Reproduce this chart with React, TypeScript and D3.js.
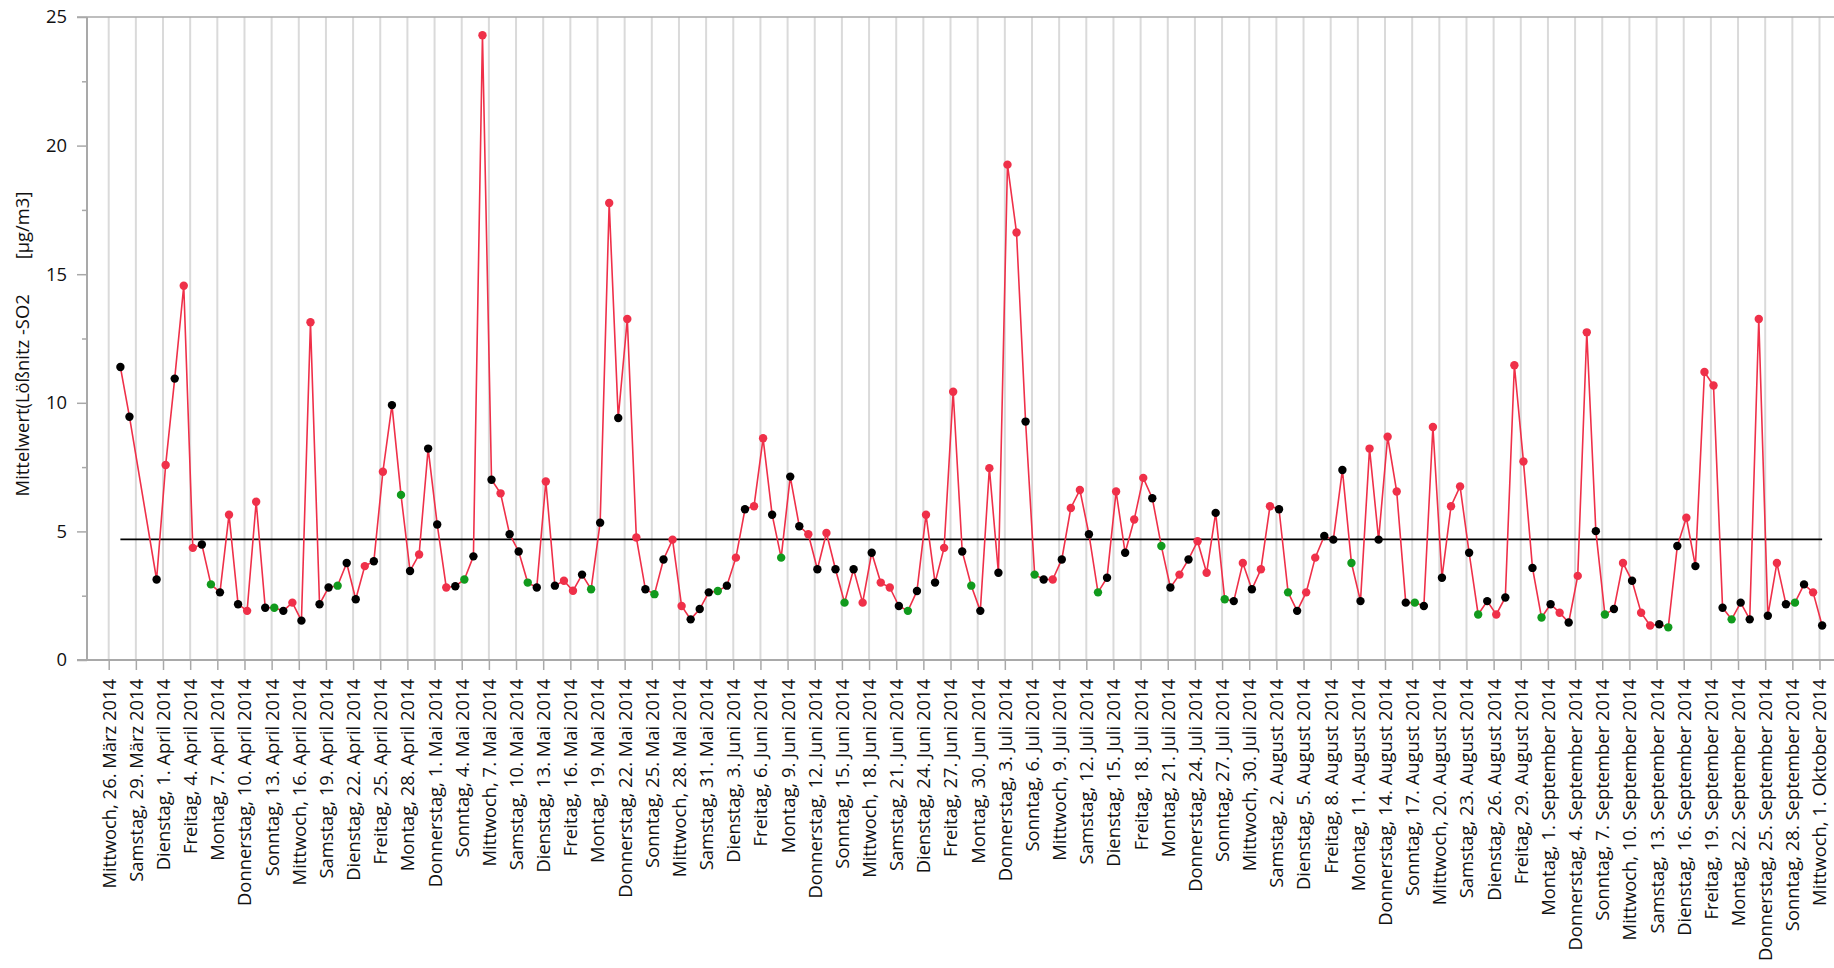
import React, { useEffect, useRef } from 'react';
import * as d3 from 'd3';

// daily SO2 means at Lößnitz (µg/m3)
const firstDays = ['2014-03-27', '2014-03-28'];
const dailyFrom = '2014-03-31'; // one value per day from here on, to 1 Oct
const so2Values = [
  11.39, 9.46,
  3.13, 7.58, 10.94, 14.55, 4.36, 4.49, 2.94, 2.63, 5.65, 2.17,
  1.91, 6.15, 2.03, 2.03, 1.91, 2.23, 1.53, 13.13, 2.17, 2.82,
  2.89, 3.77, 2.36, 3.65, 3.84, 7.32, 9.91, 6.42, 3.46, 4.10,
  8.22, 5.27, 2.82, 2.87, 3.13, 4.03, 24.29, 7.01, 6.48, 4.89,
  4.22, 3.01, 2.82, 6.94, 2.89, 3.08, 2.69, 3.32, 2.75, 5.34,
  17.77, 9.41, 13.26, 4.76, 2.75, 2.56, 3.91, 4.68, 2.10, 1.58,
  1.98, 2.63, 2.68, 2.89, 3.98, 5.86, 5.98, 8.62, 5.65, 3.98,
  7.13, 5.20, 4.89, 3.53, 4.94, 3.53, 2.23, 3.53, 2.23, 4.17,
  3.01, 2.82, 2.10, 1.91, 2.68, 5.65, 3.01, 4.36, 10.43, 4.22,
  2.89, 1.91, 7.46, 3.39, 19.26, 16.62, 9.27, 3.32, 3.13, 3.13,
  3.91, 5.91, 6.61, 4.89, 2.63, 3.20, 6.55, 4.17, 5.46, 7.08,
  6.29, 4.43, 2.82, 3.32, 3.91, 4.62, 3.39, 5.72, 2.36, 2.29,
  3.77, 2.75, 3.53, 5.98, 5.86, 2.63, 1.91, 2.63, 3.98, 4.82,
  4.68, 7.39, 3.77, 2.29, 8.22, 4.68, 8.68, 6.55, 2.23, 2.23,
  2.10, 9.06, 3.20, 5.98, 6.75, 4.17, 1.77, 2.29, 1.77, 2.43,
  11.46, 7.72, 3.58, 1.65, 2.17, 1.84, 1.46, 3.27, 12.74, 5.01,
  1.77, 1.98, 3.77, 3.08, 1.84, 1.34, 1.39, 1.27, 4.43, 5.53,
  3.65, 11.20, 10.67, 2.03, 1.58, 2.23, 1.58, 13.26, 1.72, 3.77,
  2.17, 2.23, 2.94, 2.63, 1.34,
];
// marker colour per value, k = black, r = red, g = green (one group per week, Mon..Sun)
const markerWeeks = [
  'kk',
  'krkrrkg', 'krkrrkg', 'krkrkkg', 'kkrkrkg', 'krkkrkg', 'krkrkkg',
  'krkrrkg', 'krkrrkg', 'krrkkkg', 'krkrrkg', 'kkrkrkg', 'krkrrkg',
  'krkrrkg', 'krkrrkg', 'krkrrkg', 'krkrrkg', 'krkrrkg', 'krkrrkg',
  'krrkkkg', 'krkrrkg', 'krkrrkg', 'krkrrkg', 'krkrrkg', 'krkrrkg',
  'krkrrkg', 'kkrkrkg', 'krk',
];
const meanValue = 4.69;

const tickFrom = '2014-03-26';
const tickTo = '2014-10-01';
const weekdayNames = ['Sonntag', 'Montag', 'Dienstag', 'Mittwoch', 'Donnerstag', 'Freitag', 'Samstag'];
const monthNames = ['Januar', 'Februar', 'März', 'April', 'Mai', 'Juni', 'Juli', 'August', 'September', 'Oktober', 'November', 'Dezember'];
const yTicks = [0, 5, 10, 15, 20, 25];
const yMinorTicks = [2.5, 7.5, 12.5, 17.5, 22.5];
const yTitle = 'Mittelwert(Lößnitz -SO2';
const yUnit = '[µg/m3]';

const markerFill = { k: '#000000', r: '#ef3049', g: '#119a1d' };

function App() {
  const chartRef = useRef(null);

  useEffect(() => {
    const width = 1834;
    const height = 968;
    const font = '"Open Sans", "Noto Sans", sans-serif';
    const fontSize = 18.4;
    const axisGray = '#a9a9a9';

    const svg = d3.select(chartRef.current);
    svg.selectAll('*').remove();
    svg.attr('width', width).attr('height', height);

    const parse = d3.utcParse('%Y-%m-%d');
    const dates = firstDays.map((d) => parse(d));
    for (let i = 0; i < so2Values.length - firstDays.length; i++) {
      dates.push(d3.utcDay.offset(parse(dailyFrom), i));
    }
    const codes = markerWeeks.join('');
    // values are plotted a few hours into their day
    const data = so2Values.map((v, i) => ({
      date: d3.utcHour.offset(dates[i], 7),
      value: v,
      color: markerFill[codes[i]] || '#000',
    }));

    const plotLeft = 87;
    const xScale = d3
      .scaleUtc()
      .domain([parse(tickFrom), parse(tickTo)])
      .range([108.7, 1819.5]);
    const yScale = d3.scaleLinear().domain([0, 25]).range([660, 17]);

    const german = d3.timeFormatLocale({
      dateTime: '%A, %e. %B %Y %X',
      date: '%d.%m.%Y',
      time: '%H:%M:%S',
      periods: ['AM', 'PM'],
      days: weekdayNames,
      shortDays: weekdayNames.map((d) => d.slice(0, 2)),
      months: monthNames,
      shortMonths: monthNames.map((m) => m.slice(0, 3)),
    });
    const fmt = german.utcFormat('%A, %-d. %B %Y');
    const xTicks = d3.utcDay.range(parse(tickFrom), d3.utcDay.offset(parse(tickTo), 1), 3);

    // vertical grid
    svg
      .append('g')
      .selectAll('line')
      .data(xTicks)
      .enter()
      .append('line')
      .attr('x1', (d) => xScale(d))
      .attr('x2', (d) => xScale(d))
      .attr('y1', yScale(25))
      .attr('y2', yScale(0))
      .attr('stroke', '#dadada')
      .attr('stroke-width', 2);

    // frame lines
    svg
      .append('line')
      .attr('x1', 77)
      .attr('x2', width)
      .attr('y1', yScale(25))
      .attr('y2', yScale(25))
      .attr('stroke', axisGray)
      .attr('stroke-width', 1.5);
    svg
      .append('line')
      .attr('x1', 77)
      .attr('x2', width)
      .attr('y1', yScale(0))
      .attr('y2', yScale(0))
      .attr('stroke', axisGray)
      .attr('stroke-width', 2);
    svg
      .append('line')
      .attr('x1', plotLeft)
      .attr('x2', plotLeft)
      .attr('y1', yScale(25))
      .attr('y2', yScale(0))
      .attr('stroke', axisGray)
      .attr('stroke-width', 2);

    // y axis
    const yAxis = d3.axisLeft(yScale).tickValues(yTicks).tickSize(10).tickPadding(10).tickFormat(d3.format('d'));
    const gy = svg.append('g').attr('transform', `translate(${plotLeft},0)`).call(yAxis);
    gy.select('.domain').remove();
    gy.selectAll('line').attr('stroke', axisGray).attr('stroke-width', 1.5);
    gy.selectAll('text').attr('font-family', font).attr('font-size', fontSize).attr('fill', '#111');

    const gyMinor = svg
      .append('g')
      .attr('transform', `translate(${plotLeft},0)`)
      .call(d3.axisLeft(yScale).tickValues(yMinorTicks).tickSize(5).tickFormat(() => ''));
    gyMinor.select('.domain').remove();
    gyMinor.selectAll('line').attr('stroke', axisGray).attr('stroke-width', 1.5);

    // x axis
    const xAxis = d3.axisBottom(xScale).tickValues(xTicks).tickSize(10).tickFormat(fmt);
    const gx = svg.append('g').attr('transform', `translate(0,${yScale(0)})`).call(xAxis);
    gx.select('.domain').remove();
    gx.selectAll('line').attr('stroke', axisGray).attr('stroke-width', 1.5);
    gx.selectAll('text')
      .attr('font-family', font)
      .attr('font-size', fontSize)
      .attr('fill', '#111')
      .attr('text-anchor', 'end')
      .attr('transform', 'rotate(-90)')
      .attr('x', -19)
      .attr('y', 0)
      .attr('dy', '0.35em');

    // y title
    const title = svg
      .append('text')
      .attr('transform', 'translate(28.5,344) rotate(-90)')
      .attr('text-anchor', 'middle')
      .attr('font-family', font)
      .attr('font-size', fontSize)
      .attr('fill', '#111');
    title.append('tspan').text(yTitle);
    title.append('tspan').attr('dx', 35).text(yUnit);

    // mean line
    svg
      .append('line')
      .attr('x1', xScale(data[0].date))
      .attr('x2', xScale(data[data.length - 1].date))
      .attr('y1', yScale(meanValue))
      .attr('y2', yScale(meanValue))
      .attr('stroke', '#000')
      .attr('stroke-width', 1.6);

    // series
    const line = d3
      .line()
      .x((d) => xScale(d.date))
      .y((d) => yScale(d.value));
    svg
      .append('path')
      .datum(data)
      .attr('d', line)
      .attr('fill', 'none')
      .attr('stroke', '#ef3049')
      .attr('stroke-width', 1.6);

    svg
      .selectAll('circle.pt')
      .data(data)
      .enter()
      .append('circle')
      .attr('class', 'pt')
      .attr('cx', (d) => xScale(d.date))
      .attr('cy', (d) => yScale(d.value))
      .attr('r', 4.2)
      .attr('fill', (d) => d.color);
  }, []);

  return (
    <div>
      <svg ref={chartRef} style={{ position: 'absolute', left: 0, top: 0, background: '#fff' }}></svg>
    </div>
  );
}

export default App;
